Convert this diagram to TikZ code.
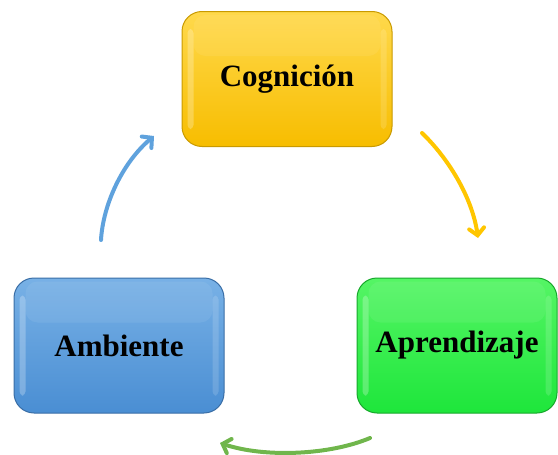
\documentclass[tikz,border=0pt]{standalone}
\usepackage{fontspec}
\setmainfont{Liberation Serif}
\usetikzlibrary{arrows.meta,calc}
\definecolor{yTop}{HTML}{FFD94C}
\definecolor{yBot}{HTML}{F7BD00}
\definecolor{yRim}{HTML}{C99A00}
\definecolor{bTop}{HTML}{78B1E6}
\definecolor{bBot}{HTML}{4A8ED3}
\definecolor{bRim}{HTML}{3A6EA6}
\definecolor{gTop}{HTML}{55F565}
\definecolor{gBot}{HTML}{1EE63B}
\definecolor{gRim}{HTML}{18A82C}
\definecolor{yArr}{HTML}{FFC600}
\definecolor{bArr}{HTML}{5FA2DD}
\definecolor{gArr}{HTML}{70B64C}
\tikzset{
  box/.style={rounded corners=20pt, minimum width=210pt, minimum height=135pt,
    inner sep=0pt, line width=1pt, font=\fontsize{31}{33}\selectfont\bfseries},
  shine/.style={fill=white, fill opacity=0.25, draw=none, rounded corners=4pt},
  flow/.style={line width=4pt, line cap=round,
    -{Straight Barb[length=7pt,width=15pt,line cap=round]}}
}
\begin{document}
\begin{tikzpicture}[x=1pt,y=-1pt]
\useasboundingbox (0,0) rectangle (558,455);
% boxes
\node[box, draw=yRim, top color=yTop, bottom color=yBot] (cog) at (287,79) {Cognición};
\node[box, draw=bRim, top color=bTop, bottom color=bBot] (amb) at (119,345.5) {Ambiente};
\node[box, draw=gRim, top color=gTop, bottom color=gBot, minimum width=200pt] (apr) at (457,345.5) {Aprendizaje};
% gloss strips
\foreach \n in {cog,amb,apr}{
  \fill[shine] ($(\n.north west)+(6,18)$) rectangle ($(\n.south west)+(12,-18)$);
  \fill[shine, fill opacity=0.15] ($(\n.north east)+(-12,18)$) rectangle ($(\n.south east)+(-6,-18)$);
  \fill[white, opacity=0.07, rounded corners=12pt] ($(\n.north west)+(12,4)$) rectangle ($(\n.north east)+(-12,45)$);
}
% arrow end points
\coordinate (b1) at (101,240);
\coordinate (b2) at (154,136);
\coordinate (y1) at (422,133);
\coordinate (y2) at (478,238);
\coordinate (g1) at (370,438);
\coordinate (g2) at (220,443);
\draw[flow, draw=bArr] (b1) .. controls (103,205) and (122,163) .. (b2);
\draw[flow, draw=yArr] (y1) .. controls (447,157) and (472,196) .. (y2);
\draw[flow, draw=gArr] (g1) .. controls (330,455) and (265,458) .. (g2);
\end{tikzpicture}
\end{document}
